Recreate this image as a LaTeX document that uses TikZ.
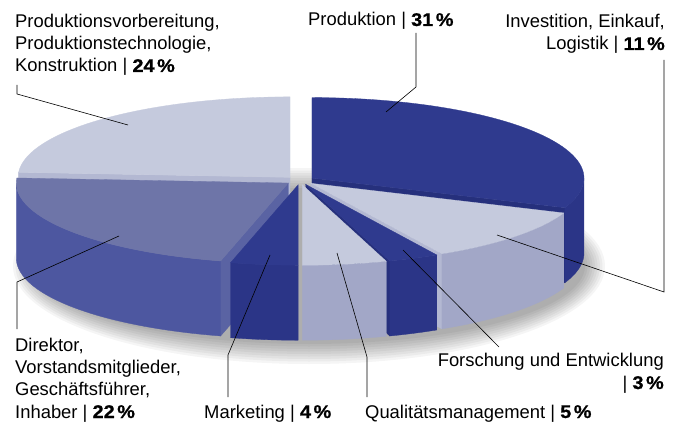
\documentclass[tikz,border=0pt]{standalone}
\usepackage{fontspec}
\setmainfont{Liberation Sans}
\newfontfamily\pctfont{Liberation Sans Bold}[FakeBold=0.8,FakeStretch=1.08]
\definecolor{dkTop}{HTML}{2F3A8E}
\definecolor{dkSide}{HTML}{2B3587}
\definecolor{dkCut}{HTML}{26307C}
\definecolor{ltTop}{HTML}{C5CADD}
\definecolor{ltSide}{HTML}{A2A7C7}
\definecolor{ltCut}{HTML}{B3B8D2}
\definecolor{mdTop}{HTML}{6E75A8}
\definecolor{mdSide}{HTML}{4D57A0}
\definecolor{mdCut}{HTML}{5A63A3}
\newcommand\PieOff[2]{%
  \pgfmathsetmacro\PX{300+14.5*cos((#1+#2)/2)}%
  \pgfmathsetmacro\PY{180.5-14.5*0.296*sin((#1+#2)/2)}}
\newcommand\PieTop[3]{\fill[#3,draw=#3,line width=0.3pt] (\PX,\PY) -- plot[domain=#1:#2,samples=80] ({\PX+272*cos(\x)},{\PY-80.5*sin(\x)}) -- cycle;}
\newcommand\PieSide[3]{\fill[#3,draw=#3,line width=0.3pt] plot[domain=#1:#2,samples=80] ({\PX+272*cos(\x)},{\PY-80.5*sin(\x)}) -- plot[domain=#2:#1,samples=80] ({\PX+272*cos(\x)},{\PY-80.5*sin(\x)+75}) -- cycle;}
\newcommand\PieCut[2]{\fill[#2,draw=#2,line width=0.3pt] (\PX,\PY) -- ({\PX+272*cos(#1)},{\PY-80.5*sin(#1)}) -- ({\PX+272*cos(#1)},{\PY-80.5*sin(#1)+75}) -- (\PX,{\PY+75}) -- cycle;}
\newcommand\pct[1]{{\pctfont #1\kern0.14em\%}}
\tikzset{
  lbl/.style={inner sep=0pt, font={\fontsize{18.4}{22.3}\selectfont}},
  leader/.style={draw=black, line width=0.6pt}
}
\begin{document}
\begin{tikzpicture}[x=1pt,y=-1pt]
\useasboundingbox (0,0) rectangle (680,425);
\fill[white] (0,0) rectangle (680,425);
% soft shadow
\foreach \i in {0,...,8}{
  \fill[black,opacity=0.04] (309,266) ellipse [x radius={296-2.5*\i}, y radius={98-2.5*\i}];
}
% Produktionsvorbereitung 90..176.4
\PieOff{90}{176.4}
\PieCut{176.4}{ltCut}
\PieTop{90}{176.4}{ltTop}
% Produktion 338.4..450
\PieOff{338.4}{450}
\PieCut{338.4}{dkCut}
\PieSide{338.4}{360}{dkSide}
\PieTop{338.4}{450}{dkTop}
% Direktor 176.4..255.6
\PieOff{176.4}{255.6}
\PieCut{255.6}{mdCut}
\PieSide{180}{255.6}{mdSide}
\PieTop{176.4}{255.6}{mdTop}
% Investition 298.8..338.4
\PieOff{298.8}{338.4}
\PieCut{298.8}{ltCut}
\PieSide{298.8}{338.4}{ltSide}
\PieTop{298.8}{338.4}{ltTop}
% Forschung 288..298.8
\PieOff{288}{298.8}
\PieCut{288}{dkCut}
\PieSide{288}{298.8}{dkSide}
\PieTop{288}{298.8}{dkTop}
% Marketing 255.6..270
\PieOff{255.6}{270}
\PieSide{255.6}{270}{dkSide}
\PieTop{255.6}{270}{dkTop}
% Qualitaet 270..288
\PieOff{270}{288}
\PieSide{270}{288}{ltSide}
\PieTop{270}{288}{ltTop}

% labels (base anchor = baseline of last line)
\node[lbl, align=left, anchor=base west] (tPV) at (15,72) {Produktionsvorbereitung,\\Produktionstechnologie,\\Konstruktion | \pct{24}};
\node[lbl, anchor=base west] (tPR) at (308,26) {Produktion | \pct{31}};
\node[lbl, align=right, anchor=base east] (tIN) at (665,50) {Investition, Einkauf,\\Logistik | \pct{11}};
\node[lbl, align=right, anchor=base east] (tFO) at (664,389) {Forschung und Entwicklung\\| \pct{3}};
\node[lbl, anchor=base west] (tQM) at (365,418) {Qualitätsmanagement | \pct{5}};
\node[lbl, anchor=base west] (tMK) at (204,418) {Marketing | \pct{4}};
\node[lbl, align=left, anchor=base west] (tDI) at (15,418) {Direktor,\\Vorstandsmitglieder,\\Geschäftsführer,\\Inhaber | \pct{22}};

% leader coordinates
\coordinate (pvA) at (17,85);  \coordinate (pvB) at (17,94);  \coordinate (pvC) at (128,125);
\coordinate (prA) at (416,33); \coordinate (prB) at (416,87); \coordinate (prC) at (386,112);
\coordinate (inA) at (664,60); \coordinate (inB) at (664,292); \coordinate (inC) at (497,235);
\coordinate (foA) at (499,347); \coordinate (foC) at (403,250);
\coordinate (qmA) at (367,397); \coordinate (qmB) at (367,357); \coordinate (qmC) at (337,253);
\coordinate (mkA) at (228,397); \coordinate (mkB) at (228,355); \coordinate (mkC) at (270,255);
\coordinate (diA) at (17,329); \coordinate (diB) at (17,282); \coordinate (diC) at (119,236);

\draw[leader] (pvA) -- (pvB) -- (pvC);
\draw[leader] (prA) -- (prB) -- (prC);
\draw[leader] (inA) -- (inB) -- (inC);
\draw[leader] (foA) -- (foC);
\draw[leader] (qmA) -- (qmB) -- (qmC);
\draw[leader] (mkA) -- (mkB) -- (mkC);
\draw[leader] (diA) -- (diB) -- (diC);
\end{tikzpicture}
\end{document}
